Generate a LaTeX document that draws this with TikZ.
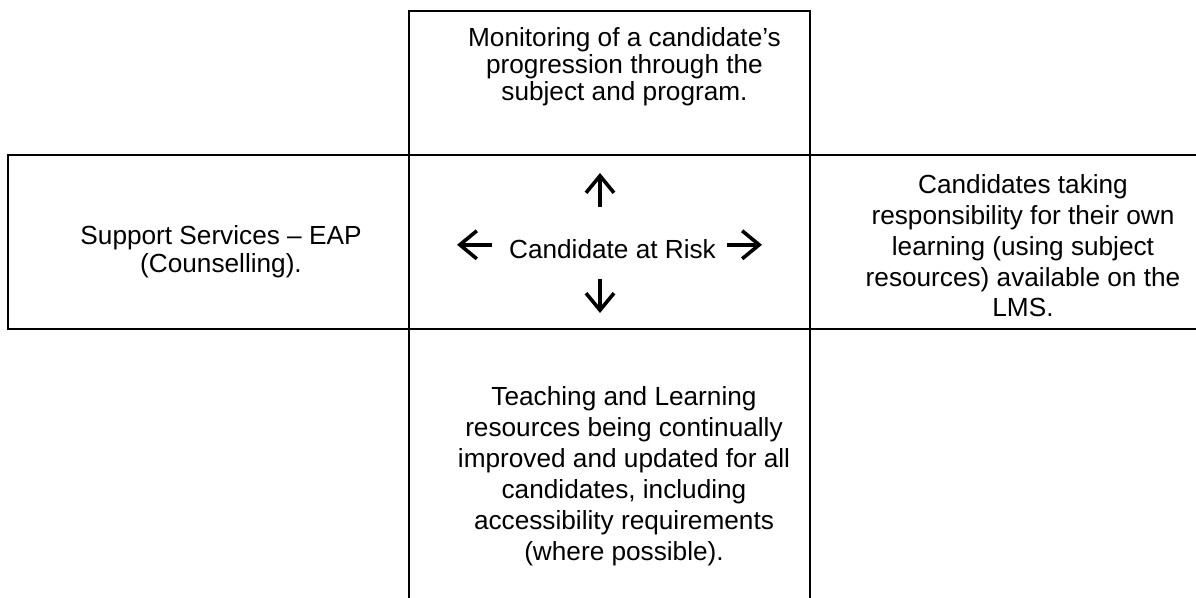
\documentclass[tikz,border=0pt]{standalone}
\usepackage{fontspec}
\setmainfont{Liberation Sans}
\usetikzlibrary{arrows.meta,positioning}

\begin{document}
\begin{tikzpicture}[x=0.5pt, y=-0.5pt,
        cell/.style={draw, line width=1pt},
        txt/.style={align=center, inner sep=0pt},
        riskarrow/.style={line width=1.8pt, -{Straight Barb[length=8.5pt, width=14pt]}}]
            \useasboundingbox (0,0) rectangle (1196,598);

            % the cross of boxes
            \draw[cell] (409, 11)   rectangle (810, 155.5);
            \draw[cell] (8, 155.5)  rectangle (409, 329);
            \draw[cell] (409, 155.5) rectangle (810, 329);
            \draw[cell] (810, 155.5) rectangle (1210, 329);
            \draw[cell] (409, 329)  rectangle (810, 610);

            \node[txt, font=\fontsize{13.1}{13.5}\selectfont] (monitoring) at (624.5, 66.5)
                {Monitoring of a candidate’s\\progression through the\\subject and program.};
            \node[txt, font=\fontsize{13.1}{14.15}\selectfont] (support) at (221, 252)
                {Support Services – EAP\\(Counselling).};
            \node[txt, font=\fontsize{13.1}{15.4}\selectfont] (selfstudy) at (1023, 246)
                {Candidates taking\\responsibility for their own\\learning (using subject\\resources) available on the\\LMS.};
            \node[txt, font=\fontsize{13.1}{15.5}\selectfont] (resources) at (624, 476)
                {Teaching and Learning\\resources being continually\\improved and updated for all\\candidates, including\\accessibility requirements\\(where possible).};
            \node[txt, font=\fontsize{13.1}{15.3}\selectfont] (risk) at (612.5, 249.5) {Candidate at Risk};

            \coordinate (upfoot)    at (600, 207);
            \coordinate (uptip)     at (600, 173);
            \coordinate (downfoot)  at (600, 279);
            \coordinate (downtip)   at (600, 313);
            \coordinate (leftfoot)  at (492, 244.8);
            \coordinate (lefttip)   at (457, 244.8);
            \coordinate (rightfoot) at (727, 244.8);
            \coordinate (righttip)  at (762, 244.8);

            \draw[riskarrow] (upfoot) -- (uptip);
            \draw[riskarrow] (downfoot) -- (downtip);
            \draw[riskarrow] (leftfoot) -- (lefttip);
            \draw[riskarrow] (rightfoot) -- (righttip);
        \end{tikzpicture}
\end{document}
